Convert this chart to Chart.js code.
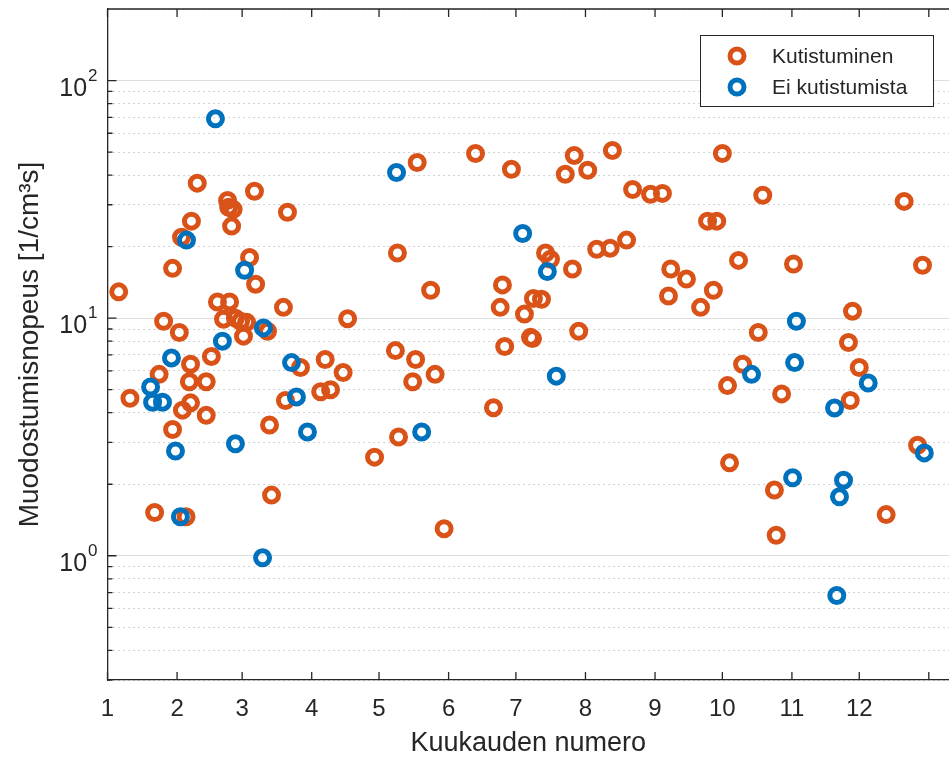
<!DOCTYPE html>
<html>
<head>
<meta charset="utf-8">
<script src="https://cdn.jsdelivr.net/npm/chart.js@4.4.0/dist/chart.umd.min.js"></script>
<style>
  body { margin: 0; background: #fff; }
  #wrap { width: 949px; height: 760px; }
</style>
</head>
<body>
<div id="wrap"><canvas id="myChart" width="949" height="760"></canvas></div>
<script>
// x axis: day of year (leap year), ticks at first day of each month
const monthStarts = [1, 32, 61, 92, 122, 153, 183, 214, 245, 275, 306, 336, 367];
const monthLabels = ['1', '2', '3', '4', '5', '6', '7', '8', '9', '10', '11', '12', ''];

// y axis: log scale ticks
const yTicks = [0.3, 0.4, 0.5, 0.6, 0.7, 0.8, 0.9, 1, 2, 3, 4, 5, 6, 7, 8, 9,
                10, 20, 30, 40, 50, 60, 70, 80, 90, 100, 200];
const yMajor = [1, 10, 100];
const yMajorExp = ['0', '1', '2'];

// Kutistuminen
const kutX = [6, 11, 22, 24, 26, 30, 30, 33, 34, 34.4, 36, 37.5, 38, 38.4, 38, 41, 45, 45, 47.3, 50,
              52.7, 54.5, 55, 57, 56.3, 55.4, 58, 60.3, 63, 61.6, 64.3, 66.5, 67, 72.3, 73.2, 74.1, 79.4, 80.3, 81.2, 87,
              96, 98, 100.4, 106, 108, 120, 129.3, 130.2, 130.7, 139, 138.3, 137, 147, 151, 145, 165, 173, 177, 176, 178,
              181, 186.8, 189.5, 190.4, 190.8, 194.4, 196.2, 198.4, 205, 209, 208.2, 211, 215, 219, 225, 226, 232.3, 235, 243, 248.3,
              252, 251, 259, 265.3, 268.4, 272.5, 271, 275, 277.3, 278.2, 282.2, 284, 291, 293, 298.2, 299, 301.4, 306.7, 331.2, 333,
              332, 336, 348, 356, 362, 364.2];
const kutY = [12.9, 4.6, 1.52, 5.8, 9.7, 16.2, 3.4, 8.7, 21.9, 4.1, 1.46, 5.4, 6.4, 25.6, 4.4, 37, 5.4, 3.9, 6.9, 11.7,
              9.9, 31.3, 29.3, 28.7, 24.4, 11.7, 10, 9.7, 9.6, 8.4, 18, 34.2, 13.9, 8.8, 3.55, 1.8, 11.1, 4.5, 27.9, 6.2,
              4.9, 6.7, 5.0, 5.9, 9.95, 2.6, 7.3, 18.8, 3.16, 45.2, 6.7, 5.4, 5.8, 1.3, 13.1, 49.3, 4.2, 13.8, 11.1, 7.6,
              42.3, 10.4, 8.3, 8.2, 12.1, 12.0, 18.8, 17.7, 40.3, 48.4, 16.1, 8.8, 41.9, 19.5, 19.7, 50.8, 21.3, 34.8, 33.2, 33.5,
              16.1, 12.4, 14.6, 11.1, 25.6, 25.6, 13.1, 49.3, 5.2, 2.46, 17.5, 6.4, 8.7, 32.9, 1.89, 1.22, 4.8, 16.9, 7.9, 10.7,
              4.5, 6.2, 1.49, 31, 2.92, 16.7];

// Ei kutistumista
const eiX = [20.2, 21.1, 25.5, 29.5, 31.3, 33.5, 36.2, 49.1, 52.2, 58, 62.1, 70.1, 70.5, 83, 85.2, 90.1,
             129.8, 141, 186, 197, 201, 288, 307.2, 308, 306.3, 325, 329, 327.2, 326, 340, 365];
const eiY = [5.13, 4.43, 4.43, 6.8, 2.76, 1.46, 21.3, 69, 8.0, 2.96, 15.9, 0.98, 9.1, 6.5, 4.66, 3.32,
             41, 3.32, 22.7, 15.7, 5.7, 5.8, 6.5, 9.7, 2.13, 4.19, 2.08, 1.77, 0.68, 5.33, 2.71];

const orange = '#D95319';
const blue = '#0072BD';
const axisColor = '#262626';
const fontFamily = '"Liberation Sans", Arial, Helvetica, sans-serif';

function toPoints(xs, ys) {
  return xs.map((x, i) => ({ x: x, y: ys[i] }));
}

// top frame line, inward tick marks, 10^n labels and the legend box
const matlabFrame = {
  id: 'matlabFrame',
  afterDraw(chart) {
    const { ctx, chartArea: a, scales } = chart;
    const xs = scales.x, ys = scales.y;
    ctx.save();
    ctx.strokeStyle = axisColor;
    ctx.lineWidth = 1.3;
    ctx.beginPath();
    ctx.moveTo(a.left, a.top);
    ctx.lineTo(a.right, a.top);
    monthStarts.forEach(v => {
      const px = xs.getPixelForValue(v);
      ctx.moveTo(px, a.bottom);
      ctx.lineTo(px, a.bottom - 8);
      ctx.moveTo(px, a.top);
      ctx.lineTo(px, a.top + 8);
    });
    yTicks.forEach(v => {
      const py = ys.getPixelForValue(v);
      const len = yMajor.includes(v) ? 9 : 5;
      ctx.moveTo(a.left, py);
      ctx.lineTo(a.left + len, py);
    });
    ctx.stroke();

    // y tick labels as 10 with a raised exponent
    ctx.fillStyle = axisColor;
    ctx.textBaseline = 'alphabetic';
    yMajor.forEach((v, i) => {
      const py = ys.getPixelForValue(v);
      ctx.font = '17px ' + fontFamily;
      ctx.textAlign = 'right';
      ctx.fillText(yMajorExp[i], a.left - 10, py);
      const ew = ctx.measureText(yMajorExp[i]).width;
      ctx.font = '25px ' + fontFamily;
      ctx.fillText('10', a.left - 11 - ew, py + 15);
    });

    // legend
    const bw = 233, bh = 71;
    const bx = a.right - 249, by = a.top + 26;
    ctx.fillStyle = '#fff';
    ctx.fillRect(bx, by, bw, bh);
    ctx.lineWidth = 1;
    ctx.strokeStyle = axisColor;
    ctx.strokeRect(bx + 0.5, by + 0.5, bw, bh);
    ctx.font = '21px ' + fontFamily;
    ctx.textBaseline = 'middle';
    ctx.textAlign = 'left';
    chart.data.datasets.forEach((ds, i) => {
      const ry = by + 21 + i * 31;
      ctx.beginPath();
      ctx.lineWidth = 5;
      ctx.strokeStyle = ds.borderColor;
      ctx.arc(bx + 37, ry, 7, 0, Math.PI * 2);
      ctx.stroke();
      ctx.fillStyle = axisColor;
      ctx.fillText(ds.label, bx + 72, ry + 1);
    });
    ctx.restore();
  }
};

const ctx = document.getElementById('myChart').getContext('2d');
const myChart = new Chart(ctx, {
  type: 'scatter',
  data: {
    datasets: [{
      label: 'Kutistuminen',
      data: toPoints(kutX, kutY),
      borderColor: orange,
      backgroundColor: 'rgba(0,0,0,0)',
      pointRadius: 7,
      pointBorderWidth: 5,
      order: 2
    }, {
      label: 'Ei kutistumista',
      data: toPoints(eiX, eiY),
      borderColor: blue,
      backgroundColor: 'rgba(0,0,0,0)',
      pointRadius: 7,
      pointBorderWidth: 5,
      order: 1
    }]
  },
  options: {
    responsive: false,
    animation: false,
    events: [],
    devicePixelRatio: 1,
    layout: { autoPadding: false, padding: { top: 9, right: 0, left: 0, bottom: 0 } },
    plugins: {
      legend: { display: false },
      tooltip: { enabled: false }
    },
    scales: {
      x: {
        type: 'linear',
        min: 1,
        max: 376,
        afterBuildTicks: (scale) => {
          scale.ticks = monthStarts.map(v => ({ value: v }));
        },
        afterFit: (scale) => {
          scale.height = 80;
          scale.paddingLeft = 0;
          scale.paddingRight = 0;
        },
        ticks: {
          autoSkip: false,
          maxRotation: 0,
          padding: 15,
          color: axisColor,
          font: { family: fontFamily, size: 24 },
          callback: (value, index) => monthLabels[index]
        },
        grid: { display: false, drawTicks: false },
        border: { display: true, color: axisColor, width: 1.3 },
        title: {
          display: true,
          text: 'Kuukauden numero',
          color: axisColor,
          font: { family: fontFamily, size: 27 },
          padding: { top: 0, bottom: 0 }
        }
      },
      y: {
        type: 'logarithmic',
        min: 0.3,
        max: 200,
        afterBuildTicks: (scale) => {
          scale.ticks = yTicks.map(v => ({ value: v, major: yMajor.includes(v) }));
        },
        afterFit: (scale) => {
          scale.width = 107.5;
          scale.paddingTop = 0;
          scale.paddingBottom = 0;
        },
        ticks: { display: false, autoSkip: false },
        grid: {
          drawTicks: false,
          lineWidth: 1,
          color: (c) => (c.tick && yMajor.includes(c.tick.value)) ? '#dedede' : '#c4c4c4'
        },
        border: {
          display: true,
          color: axisColor,
          width: 1.3,
          dash: (c) => (c.tick && !yMajor.includes(c.tick.value)) ? [1.5, 3.5] : []
        },
        title: {
          display: true,
          text: 'Muodostumisnopeus [1/cm\u00B3s]',
          color: axisColor,
          font: { family: fontFamily, size: 28 },
          padding: { top: 13, bottom: 0 }
        }
      }
    }
  },
  plugins: [matlabFrame]
});
</script>
</body>
</html>
